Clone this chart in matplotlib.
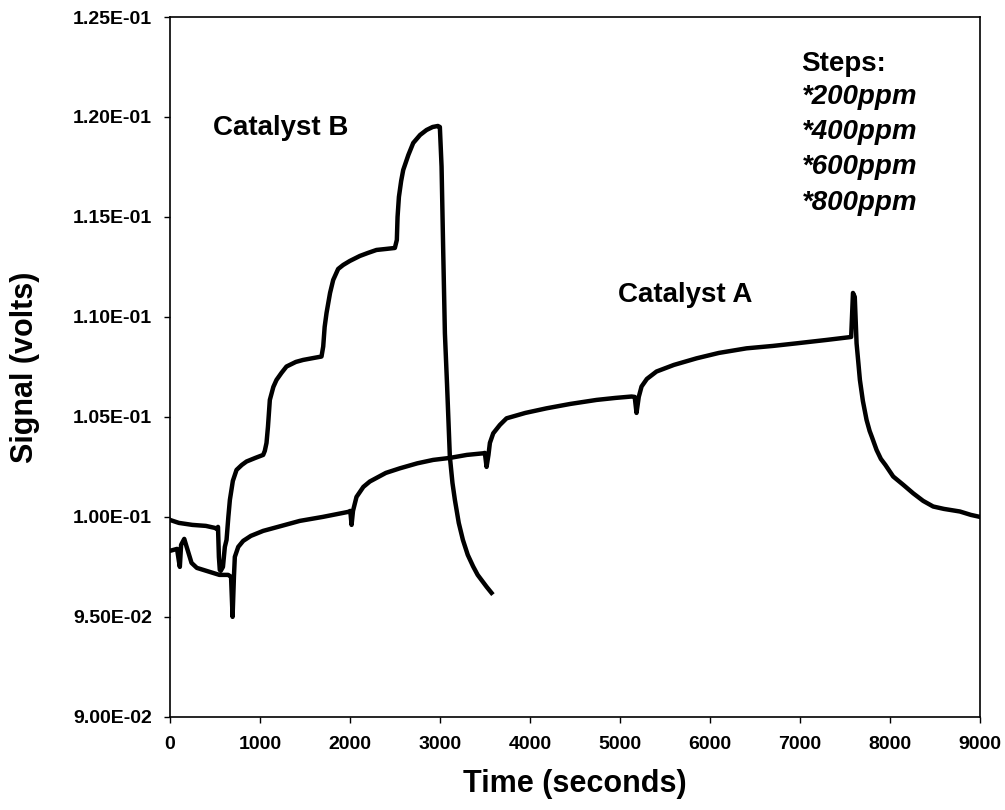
import matplotlib
matplotlib.use("Agg")
import matplotlib.pyplot as plt
from matplotlib.ticker import FuncFormatter, MultipleLocator

plt.rcParams['font.family'] = ['Liberation Sans', 'DejaVu Sans']
plt.rcParams['font.weight'] = 'bold'

# Catalyst A: long run, 0 - 9000 s
time_a = [0, 80, 100, 111, 125, 160, 180, 241, 300, 407, 550, 648, 680, 697, 712,
          722, 760, 815, 900, 1037, 1200, 1444, 1700, 1981, 2005, 2019, 2035, 2074,
          2150, 2222, 2400, 2556, 2750, 2926, 3111, 3300, 3481, 3500, 3519, 3540,
          3556, 3593, 3667, 3741, 3950, 4185, 4450, 4741, 4950, 5130, 5165, 5185,
          5210, 5241, 5300, 5407, 5600, 5852, 6100, 6407, 6700, 6963, 7296, 7537,
          7570, 7590, 7610, 7630, 7650, 7667, 7700, 7741, 7775, 7800, 7852, 7900,
          7950, 8037, 8150, 8259, 8370, 8481, 8600, 8778, 8900, 9000]
signal_a = [0.0983, 0.0984, 0.0978, 0.0975, 0.0986, 0.0989, 0.0986, 0.0977, 0.09745,
            0.0973, 0.0971, 0.0971, 0.0970, 0.0950, 0.0970, 0.0980, 0.0985, 0.0988,
            0.09905, 0.0993, 0.0995, 0.0998, 0.1000, 0.10025, 0.1003, 0.0996, 0.1003,
            0.1010, 0.1015, 0.10177, 0.1022, 0.10243, 0.10268, 0.10285, 0.10295,
            0.1031, 0.10318, 0.1032, 0.1025, 0.1031, 0.1037, 0.10418, 0.1046, 0.10493,
            0.1052, 0.10543, 0.10565, 0.10585, 0.10595, 0.10602, 0.1060, 0.1052,
            0.1060, 0.10652, 0.1069, 0.10727, 0.1076, 0.10793, 0.1082, 0.10843,
            0.10855, 0.10868, 0.10885, 0.10898, 0.1090, 0.1112, 0.1110, 0.10868,
            0.1077, 0.10685, 0.1058, 0.10485, 0.1043, 0.1040, 0.10335, 0.1029,
            0.1026, 0.10202, 0.1016, 0.10118, 0.1008, 0.10052, 0.1004, 0.10027,
            0.1001, 0.1000]

# Catalyst B: short run, 0 - ~3600 s
time_b = [0, 100, 250, 400, 500, 520, 535, 545, 555, 565, 590, 611, 630, 650, 667,
          700, 741, 800, 852, 950, 1037, 1055, 1074, 1090, 1111, 1150, 1185, 1240,
          1296, 1400, 1481, 1600, 1685, 1704, 1720, 1741, 1780, 1815, 1870, 1926,
          2000, 2111, 2200, 2296, 2400, 2500, 2522, 2530, 2545, 2570, 2593, 2650,
          2704, 2780, 2852, 2920, 2978, 3000, 3019, 3037, 3056, 3080, 3111, 3140,
          3167, 3210, 3256, 3310, 3370, 3420, 3470, 3520, 3574]
signal_b = [0.09985, 0.0997, 0.0996, 0.09955, 0.09945, 0.0994, 0.0995, 0.0980,
            0.09735, 0.0973, 0.0975, 0.0985, 0.09885, 0.1000, 0.10085, 0.1018,
            0.10235, 0.1026, 0.10277, 0.10295, 0.1031, 0.1033, 0.1037, 0.1045,
            0.10585, 0.1065, 0.10685, 0.1072, 0.10752, 0.10775, 0.10785, 0.10795,
            0.10802, 0.10852, 0.1095, 0.1102, 0.1112, 0.11185, 0.1124, 0.1126,
            0.1128, 0.11305, 0.1132, 0.11335, 0.1134, 0.11345, 0.11385, 0.1150,
            0.1160, 0.1168, 0.11735, 0.1181, 0.1187, 0.1191, 0.11935, 0.1195,
            0.11955, 0.1195, 0.11752, 0.11335, 0.10918, 0.1066, 0.10302, 0.1017,
            0.10085, 0.0997, 0.09885, 0.0981, 0.09752, 0.0971, 0.0968, 0.0965,
            0.0962]

steps = ["*200ppm", "*400ppm", "*600ppm", "*800ppm"]

fig = plt.figure(figsize=(10.05, 8.1), dpi=100)
ax = fig.add_axes([0.169, 0.115, 0.806, 0.864])

ax.plot(time_a, signal_a, color='black', lw=3.2, solid_joinstyle='round')
ax.plot(time_b, signal_b, color='black', lw=3.2, solid_joinstyle='round')

ax.set_xlim(0, 9000)
ax.set_ylim(0.09, 0.125)
ax.xaxis.set_major_locator(MultipleLocator(1000))
ax.yaxis.set_major_locator(MultipleLocator(0.005))
ax.yaxis.set_major_formatter(FuncFormatter(lambda v, p: f"{v:.2E}"))
ax.tick_params(direction='out', length=4, width=1, labelsize=14)
ax.tick_params(axis='y', pad=9)
ax.tick_params(axis='x', pad=10)
for s in ax.spines.values():
    s.set_linewidth(1.2)

ax.set_xlabel("Time (seconds)", fontsize=22, fontweight='bold')
ax.set_ylabel("Signal (volts)", fontsize=22, fontweight='bold')
ax.xaxis.set_label_coords(0.5, -0.075)
ax.yaxis.set_label_coords(-0.16, 0.5)

ax.text(478, 0.11945, "Catalyst B", fontsize=20, fontweight='bold', va='center')
ax.text(4978, 0.1111, "Catalyst A", fontsize=20, fontweight='bold', va='center')
ax.text(7019, 0.12267, "Steps:", fontsize=20, fontweight='bold', va='center')
for label, yv in zip(steps, [0.1210, 0.11927, 0.11748, 0.1157]):
    ax.text(7019, yv, label, fontsize=20, fontweight='bold', style='italic', va='center')

fig.savefig("out.png", dpi=100)
